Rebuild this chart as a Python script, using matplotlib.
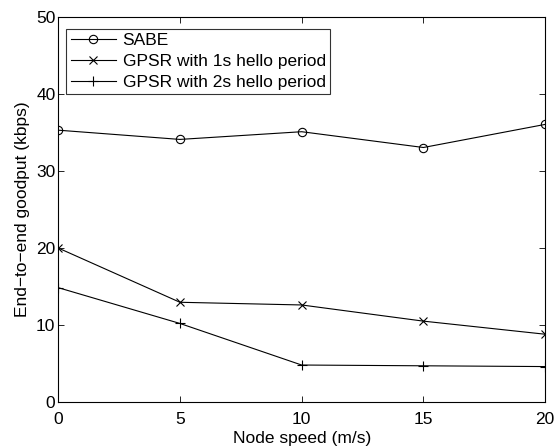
import matplotlib
matplotlib.use('Agg')
import matplotlib.pyplot as plt

plt.rcParams['font.family'] = ['Liberation Sans', 'DejaVu Sans']

speed = [0, 5, 10, 15, 20]
sabe = [35.3, 34.1, 35.1, 33.05, 36.05]
gpsr_1s = [20.0, 12.95, 12.6, 10.5, 8.8]
gpsr_2s = [14.85, 10.2, 4.8, 4.7, 4.6]

fig = plt.figure(figsize=(5.54, 4.47), dpi=100)
ax = fig.add_axes([0.105, 0.1007, 0.879, 0.8613])

ax.plot(speed, sabe, color='k', lw=0.8, marker='o', ms=6, mfc='none', mew=0.8, label='SABE')
ax.plot(speed, gpsr_1s, color='k', lw=0.8, marker='x', ms=5.5, mew=0.8, label='GPSR with 1s hello period')
ax.plot(speed, gpsr_2s, color='k', lw=0.8, marker='+', ms=6.5, mew=0.8, label='GPSR with 2s hello period')

ax.set_xlim(0, 20)
ax.set_ylim(0, 50)
ax.set_xticks(speed)
ax.set_yticks([0, 10, 20, 30, 40, 50])
ax.tick_params(direction='in', top=True, right=True, labelsize=12.5, length=4, width=0.6)
ax.tick_params(axis='x', pad=7)
ax.tick_params(axis='y', pad=2)
for s in ax.spines.values():
    s.set_linewidth(0.8)
ax.set_xlabel('Node speed (m/s)', fontsize=12.5, labelpad=3)
ax.set_ylabel('End\u2212to\u2212end goodput (kbps)', fontsize=12.5, labelpad=4)

leg = ax.legend(loc='upper left', bbox_to_anchor=(8 / 487, 1 - 12 / 385),
                fontsize=12.5, frameon=True, fancybox=False,
                edgecolor='k', borderaxespad=0, handlelength=2.6,
                labelspacing=0.32, borderpad=0.25, handletextpad=0.4)
leg.get_frame().set_linewidth(0.8)

fig.savefig('out.png', dpi=100)
